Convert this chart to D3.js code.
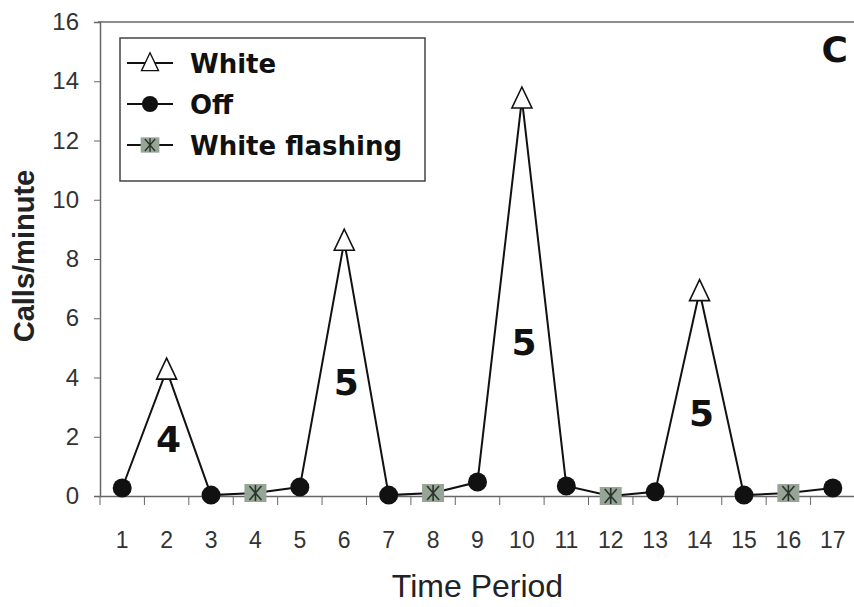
<!DOCTYPE html>
<html>
<head>
<meta charset="utf-8">
<script src="https://cdn.jsdelivr.net/npm/d3@7"></script>
<style>
  body { margin: 0; background: #fff; }
  svg { display: block; }
  .tick text { font-family: "Liberation Sans", Arial, sans-serif; fill: #333; }
</style>
</head>
<body>
<svg width="854" height="607"></svg>
<script>
// time periods and what the light was doing in each
var periods = ["1","2","3","4","5","6","7","8","9","10","11","12","13","14","15","16","17"];
var conditions = ["Off","White","Off","White flashing","Off","White","Off","White flashing",
                  "Off","White","Off","White flashing","Off","White","Off","White flashing","Off"];
var callsPerMinute = [0.27, 4.25, 0.03, 0.1, 0.3, 8.6, 0.03, 0.1, 0.47, 13.4, 0.34, 0.0, 0.14, 6.9, 0.03, 0.1, 0.27];

var seriesNames = ["White", "Off", "White flashing"];
var yTicks = [0, 2, 4, 6, 8, 10, 12, 14, 16];

// numbers written inside the peaks
var notePeriods = ["2", "6", "10", "14"];
var noteLabels = ["4", "5", "5", "5"];
var noteValues = [1.5, 3.4, 4.75, 2.35];

var svg = d3.select("svg"),
    margin = {top: 22, right: -1, bottom: 111, left: 100},
    width = +svg.attr("width") - margin.left - margin.right,
    height = +svg.attr("height") - margin.top - margin.bottom,
    g = svg.append("g").attr("transform", "translate(" + margin.left + "," + margin.top + ")");

var x = d3.scaleBand().domain(periods).range([0, width]);
var y = d3.scaleLinear().domain([0, 16]).range([height, 0]);

// frame line on top
g.append("line")
    .attr("x1", -2).attr("x2", width)
    .attr("y1", y(16)).attr("y2", y(16))
    .attr("stroke", "#666").attr("stroke-width", 1.5);

// y axis
var yAxis = g.append("g")
    .call(d3.axisLeft(y).tickValues(yTicks).tickSize(6).tickPadding(15));
yAxis.select(".domain").attr("stroke", "#666").attr("stroke-width", 1.5);
yAxis.selectAll(".tick line").attr("stroke", "#666");
yAxis.selectAll(".tick text").style("font-size", "24px");

// x axis, ticks sit between the periods
var xAxis = g.append("g")
    .attr("transform", "translate(0," + height + ")")
    .call(d3.axisBottom(x).tickSize(0).tickPadding(36));
xAxis.select(".domain").attr("stroke", "#666").attr("stroke-width", 1.5);
xAxis.selectAll(".tick text").style("font-size", "23px");
xAxis.selectAll(".sep")
    .data(periods)
    .enter().append("line")
    .attr("class", "sep")
    .attr("x1", function(d) { return x(d); })
    .attr("x2", function(d) { return x(d); })
    .attr("y1", 0).attr("y2", 9)
    .attr("stroke", "#666");

svg.append("text")
    .attr("x", margin.left + width / 2)
    .attr("y", 597)
    .attr("text-anchor", "middle")
    .style("font-family", "Liberation Sans, Arial, sans-serif")
    .style("font-size", "32px")
    .style("fill", "#222")
    .text("Time Period");

svg.append("text")
    .attr("transform", "translate(34," + (margin.top + y(8.1)) + ") rotate(-90)")
    .attr("text-anchor", "middle")
    .style("font-family", "Liberation Sans, Arial, sans-serif")
    .style("font-weight", "bold")
    .style("font-size", "29px")
    .style("fill", "#222")
    .text("Calls/minute");

// one line through every period
var data = periods.map(function(p, i) {
    return {period: p, cond: conditions[i], value: callsPerMinute[i]};
});

var line = d3.line()
    .x(function(d) { return x(d.period) + x.bandwidth() / 2; })
    .y(function(d) { return y(d.value); });

g.append("path")
    .datum(data)
    .attr("d", line)
    .attr("fill", "none")
    .attr("stroke", "#111")
    .attr("stroke-width", 2);

function drawMarker(sel, cond) {
    if (cond == "White") {
        sel.append("path")
            .attr("d", "M0,-12L10,9L-10,9Z")
            .attr("fill", "#fff").attr("stroke", "#111").attr("stroke-width", 1.6);
    } else if (cond == "Off") {
        sel.append("circle").attr("r", 9.5).attr("fill", "#111");
    } else {
        sel.append("rect")
            .attr("x", -11).attr("y", -9).attr("width", 22).attr("height", 18)
            .attr("fill", "#97a597");
        sel.append("path")
            .attr("d", "M-6,-7L6,7M6,-7L-6,7M0,-8L0,8")
            .attr("stroke", "#2a332a").attr("stroke-width", 1.6);
    }
}

g.selectAll(".marker")
    .data(data)
    .enter().append("g")
    .attr("class", "marker")
    .attr("transform", function(d) { return "translate(" + (x(d.period) + x.bandwidth() / 2) + "," + y(d.value) + ")"; })
    .each(function(d) { drawMarker(d3.select(this), d.cond); });

// peak numbers
g.selectAll(".note")
    .data(notePeriods)
    .enter().append("text")
    .attr("class", "note")
    .attr("x", function(d) { return x(d) + x.bandwidth() / 2 + 2; })
    .attr("y", function(d, i) { return y(noteValues[i]); })
    .attr("text-anchor", "middle")
    .style("font-family", "DejaVu Sans, sans-serif")
    .style("font-weight", "bold")
    .style("font-size", "36px")
    .style("fill", "#111")
    .text(function(d, i) { return noteLabels[i]; });

// panel letter
svg.append("text")
    .attr("x", 848).attr("y", 62)
    .attr("text-anchor", "end")
    .style("font-family", "DejaVu Sans, sans-serif")
    .style("font-weight", "bold")
    .style("font-size", "36px")
    .style("fill", "#111")
    .text("C");

// legend
var legend = svg.append("g").attr("transform", "translate(120,38)");
legend.append("rect")
    .attr("width", 305).attr("height", 143)
    .attr("fill", "#fff").attr("stroke", "#444").attr("stroke-width", 1.5);

var item = legend.selectAll(".item")
    .data(seriesNames)
    .enter().append("g")
    .attr("class", "item")
    .attr("transform", function(d, i) { return "translate(0," + (25 + i * 41) + ")"; });

item.append("line")
    .attr("x1", 7).attr("x2", 53)
    .attr("stroke", "#111").attr("stroke-width", 2);
item.each(function(d) {
    var m = d3.select(this).append("g").attr("transform", "translate(30,0) scale(0.85)");
    drawMarker(m, d);
});
item.append("text")
    .attr("x", 70).attr("y", 10)
    .style("font-family", "DejaVu Sans, sans-serif")
    .style("font-weight", "bold")
    .style("font-size", "26px")
    .style("fill", "#111")
    .text(function(d) { return d; });
</script>
</body>
</html>
